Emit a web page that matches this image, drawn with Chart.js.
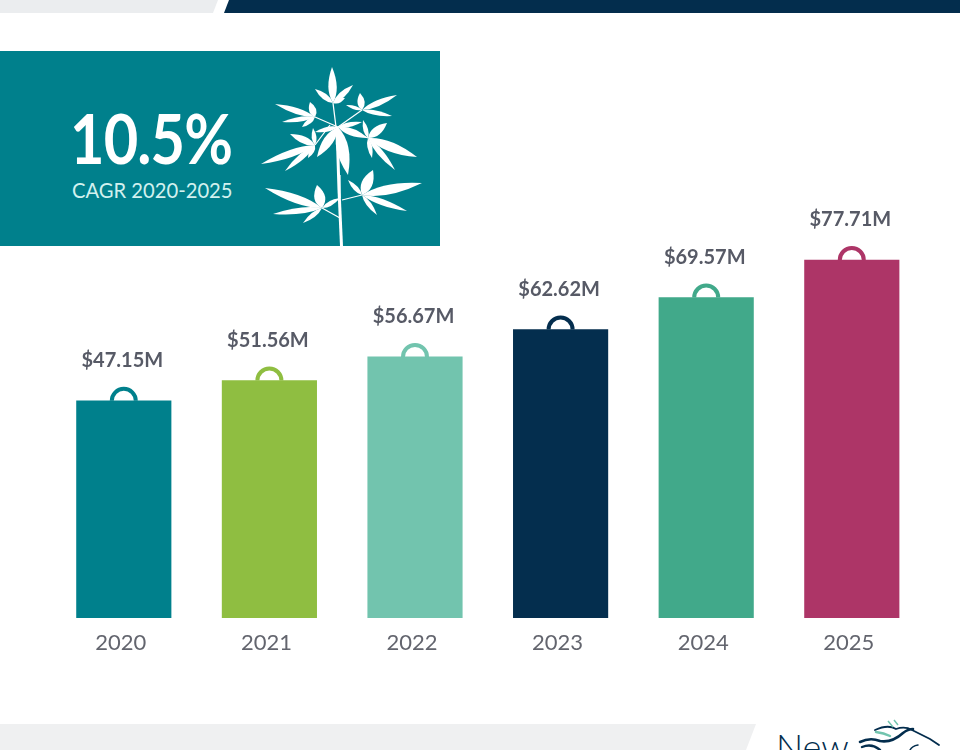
<!DOCTYPE html>
<html>
<head>
<meta charset="utf-8">
<title>CAGR 2020-2025</title>
<script src="https://cdn.jsdelivr.net/npm/chart.js@4"></script>
<style>
    html, body { margin: 0; padding: 0; background: #fff; }
    body { position: relative; width: 960px; height: 750px; overflow: hidden; font-family: Lato, sans-serif; }
    #decor, #chart { position: absolute; left: 0; top: 0; }
    .big { position: absolute; left: 70px; top: 98px; font-size: 68px; line-height: 80px; font-weight: 700; color: #fff; letter-spacing: -1px; transform: scaleX(0.875); transform-origin: left center; }
    .sub { position: absolute; left: 72px; top: 177px; font-size: 20.2px; line-height: 26px; color: #d2f1ef; }
    .logo { position: absolute; left: 776px; top: 722px; font-size: 36px; line-height: 48px; font-weight: 300; color: #032d4d; }
</style>
</head>
<body>
<svg id="decor" width="960" height="750" xmlns="http://www.w3.org/2000/svg">
    <polygon points="0,0 218,0 213,13 0,13" fill="#ebedef"/>
    <polygon points="229,0 960,0 960,13 224,13" fill="#032d4d"/>
    <polygon points="0,724 756,724 746,750 0,750" fill="#eff0f1"/>
    <rect x="0" y="51" width="440" height="195" fill="#00808c"/>
    <g id="plant" fill="#fff" stroke="none"></g>
    <g fill="none" stroke="#032d4d" stroke-linecap="round">
        <path d="M875 730 Q888 724 896 729 Q905 726 912 730 L930 739 L939 745" stroke-width="1.8"/>
        <path d="M860 742 Q870 737 880 741 Q892 743 903 733 Q908 729 913 729" stroke-width="2.6"/>
        <path d="M862 747 Q872 743 880 750" stroke-width="2.4"/>
        <path d="M918 745 Q912 746 910 750" stroke-width="1.5"/>
    </g>
    <path d="M876 732 Q884 733 890 736" fill="none" stroke="#72c4ae" stroke-width="2.5" stroke-linecap="round"/>
    <path d="M888 721 L893 727 M894 720 L898 725" fill="none" stroke="#72c4ae" stroke-width="1.5"/>
</svg>
<div class="big">10.5%</div>
<div class="sub">CAGR 2020-2025</div>
<div class="logo">New</div>
<canvas id="chart" width="960" height="750"></canvas>
<script>
const years = ['2020', '2021', '2022', '2023', '2024', '2025'];
const revenue = [47.15, 51.56, 56.67, 62.62, 69.57, 77.71];
const barColors = ['#00808c', '#8fbe41', '#72c4ae', '#042e4e', '#41a98a', '#ad3567'];

// plant picture, [x1, y1, x2, y2, half width]
const leaves = [
    [333,103,332,67,3.5],[333,103,353,85,2.5],[333,103,315,89,2.5],[333,103,345,98,2],
    [315,117,275,104,2.5],[315,117,282,122,2],[315,117,310,102,3],[315,117,302,127,2],
    [362,110,397,95,2.5],[362,110,392,116,2],[362,110,360,93,3],[362,110,346,105,1.5],
    [338,127,348,175,5],[338,127,317,157,4],[338,127,315,132,2],[338,127,362,122,2],[338,127,368,138,3],
    [368,138,417,157,4],[368,138,395,170,2.5],[368,138,372,158,2],[368,138,387,123,3.5],[368,138,363,120,2],
    [315,145,261,164,3],[315,145,285,171,2.5],[315,145,290,134,3],[315,145,308,158,2],[315,145,313,128,2],
    [322,208,265,188,3.5],[322,208,273,214,2.5],[322,208,303,223,2],[322,208,317,185,4.5],[322,208,340,198,2],
    [362,195,422,183,4],[362,195,407,211,2.5],[362,195,377,215,2],[362,195,373,170,4.5],[362,195,348,180,2]
];
const twigs = [
    [341.5,246,339,190],[339,190,337,127],[336,127,333,103],[338,127,362,110],[338,127,315,117],
    [340,127,368,138],[330,125,315,145],[340,218,322,208],[342,200,362,195],[340,175,340,198]
];

function drawPlant() {
    const plant = document.getElementById('plant');
    const ns = 'http://www.w3.org/2000/svg';
    leaves.forEach(l => {
        const dx = l[2] - l[0], dy = l[3] - l[1];
        const len = Math.sqrt(dx * dx + dy * dy);
        const nx = -dy / len * l[4] * 2.4, ny = dx / len * l[4] * 2.4;
        const mx = l[0] + dx * 0.4, my = l[1] + dy * 0.4;
        const path = document.createElementNS(ns, 'path');
        path.setAttribute('d', `M${l[0]} ${l[1]} Q${mx + nx} ${my + ny} ${l[2]} ${l[3]} Q${mx - nx} ${my - ny} ${l[0]} ${l[1]}Z`);
        plant.appendChild(path);
    });
    twigs.forEach((t, i) => {
        const line = document.createElementNS(ns, 'line');
        line.setAttribute('x1', t[0]);
        line.setAttribute('y1', t[1]);
        line.setAttribute('x2', t[2]);
        line.setAttribute('y2', t[3]);
        line.setAttribute('stroke', '#fff');
        line.setAttribute('stroke-width', i < 2 ? 3 : 1.2);
        plant.appendChild(line);
    });
}
drawPlant();

// the little handle on each bar and the value over it
const bagLabels = {
    id: 'bagLabels',
    afterDatasetsDraw(chart) {
        const ctx = chart.ctx;
        chart.getDatasetMeta(0).data.forEach((bar, i) => {
            ctx.save();
            ctx.beginPath();
            ctx.arc(bar.x, bar.y, 12, Math.PI, 0);
            ctx.lineWidth = 4;
            ctx.strokeStyle = barColors[i];
            ctx.stroke();
            ctx.font = '700 20px Lato, sans-serif';
            ctx.fillStyle = '#575a66';
            ctx.textAlign = 'center';
            ctx.textBaseline = 'middle';
            ctx.fillText(`$${revenue[i].toFixed(2)}M`, bar.x - 1.5, bar.y - 40);
            ctx.restore();
        });
    }
};

new Chart(document.getElementById('chart'), {
    type: 'bar',
    data: {
        labels: years,
        datasets: [{
            data: revenue,
            backgroundColor: barColors,
            barThickness: 94.5
        }]
    },
    options: {
        responsive: false,
        animation: false,
        layout: { padding: { left: 51, right: 35.4, top: 157.3, bottom: 0 } },
        plugins: { legend: { display: false }, tooltip: { enabled: false } },
        scales: {
            x: {
                grid: { display: false },
                border: { display: false },
                afterFit: scale => { scale.height = 132; },
                ticks: { color: '#63656e', padding: 4, labelOffset: -3, font: { family: 'Lato, sans-serif', size: 22 } }
            },
            y: { display: false, min: 0, max: 100 }
        }
    },
    plugins: [bagLabels]
});
</script>
</body>
</html>
